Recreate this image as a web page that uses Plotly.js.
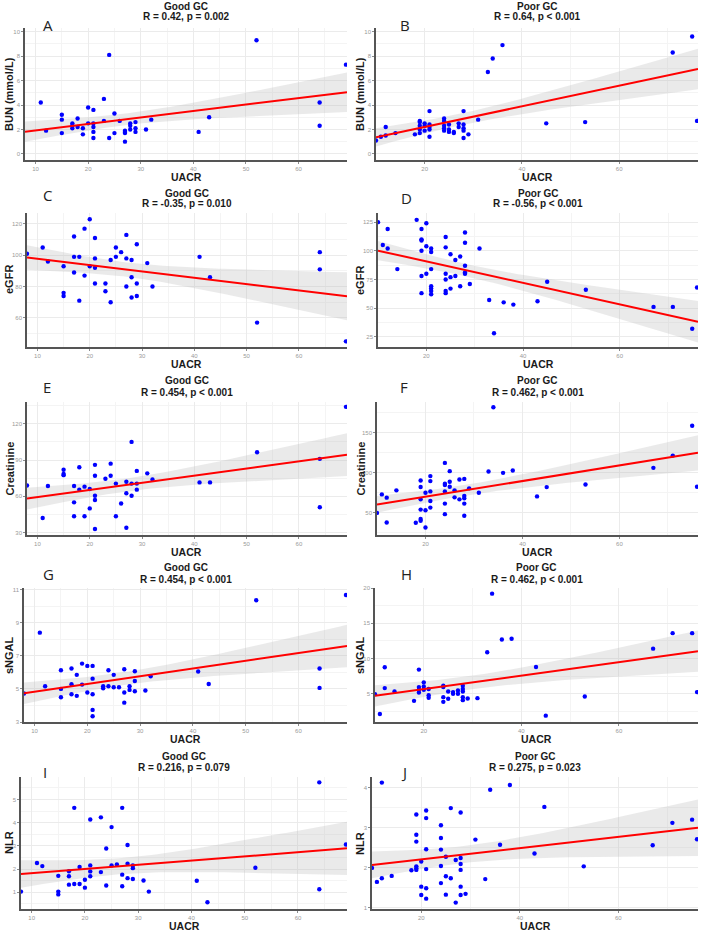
<!DOCTYPE html>
<html>
<head>
<meta charset="utf-8">
<script src="https://cdn.plot.ly/plotly-3.0.1.min.js"></script>
<style>html,body{margin:0;padding:0;background:#fff;}#chart{width:702px;height:932px;}</style>
</head>
<body>
<div id="chart"></div>
<script>
// ---------------- DATA ----------------
const groupGood = "Good GC";
const groupPoor = "Poor GC";
const xLabel = "UACR";

// A: BUN, Good GC
const bunGoodUacr = [11,12,15,15,15,17,17,17,18,18,19,19,20,20,21,21,21,21,21,23,23,24,24,25,25,26,27,27,27,27,28,28,28,29,29,29,31,32,41,43,52,64,64,69];
const bunGood = [4.2,1.9,3.2,2.8,1.7,2.5,2.3,2.1,2.9,2.2,2.1,1.6,3.8,2.5,3.6,2.5,2.2,1.8,1.3,4.5,2.7,8.1,1.3,3.3,1.7,2.7,1.9,1.7,1.0,1.8,2.5,2.3,2.0,2.6,2.1,1.8,2.0,2.8,1.8,3.0,9.3,4.2,2.3,7.3];
// B: BUN, Poor GC
const bunPoorUacr = [10,11,12,12,14,18,19,19,19,19,19,20,20,20,21,21,21,21,21,24,24,24,24,24,25,25,25,26,26,27,27,28,28,28,28,28,29,31,33,34,36,45,53,71,75,76];
const bunPoor = [1.1,1.4,2.2,1.5,1.7,1.6,2.7,2.6,2.3,2.0,1.7,2.5,2.3,1.9,3.5,2.4,2.2,2.0,1.4,2.9,2.7,2.3,2.1,1.9,2.4,2.0,1.8,1.8,1.7,2.5,2.2,3.5,2.4,2.1,1.9,1.3,1.6,2.8,6.7,7.8,8.9,2.5,2.6,8.3,9.6,2.7];
// C: eGFR, Good GC
const egfrGoodUacr = [8,11,12,15,15,15,17,17,17,18,18,19,19,20,20,21,21,21,21,23,23,24,24,25,25,26,27,27,27,28,28,28,29,29,29,31,32,41,43,52,64,64,69];
const egfrGood = [101,105,96,93,76,74,112,99,89,99,71,117,87,123,93,111,98,92,82,82,77,97,70,105,99,102,113,98,80,97,86,73,107,82,74,95,80,99,86,57,102,91,45];
// D: eGFR, Poor GC
const egfrPoorUacr = [10,11,12,12,14,18,19,19,19,19,19,19,20,20,20,21,21,21,21,21,21,21,24,24,24,24,24,24,25,25,25,26,26,27,27,28,28,28,28,28,29,31,33,34,36,38,43,45,53,67,71,75,76];
const egfrPoor = [125,105,119,102,84,127,119,110,109,100,78,63,124,104,80,102,99,84,69,67,65,62,112,103,80,75,65,63,97,77,67,92,78,95,69,116,107,87,81,80,71,102,57,28,55,53,56,73,66,51,51,32,68];
// E: Creatinine, Good GC
const creatGoodUacr = [8,11,12,15,15,15,17,17,17,18,18,19,19,20,20,21,21,21,21,21,23,24,24,25,25,26,27,27,27,28,28,28,29,29,29,31,32,41,43,52,64,64,69];
const creatGood = [69,42,68.5,82,78.5,77.5,68.5,55,43.5,84,65.5,68,43.5,66,50,86,77,60.5,57,33,74.5,87,77,70.5,43.5,54,72,62.5,34,105,70.5,60.5,81,70.5,65.5,79,74,71.5,71.5,96.5,91,51,134];
// F: Creatinine, Poor GC
const creatPoorUacr = [10,11,12,12,14,18,19,19,19,19,19,19,20,20,20,21,21,21,21,21,24,24,24,24,24,24,25,25,25,26,26,27,27,28,28,28,28,28,29,31,33,34,36,38,43,45,53,67,71,75,76];
const creatPoor = [49.6,72.7,68.6,37.6,77.7,37.2,90,82,66.5,53.7,42,39.7,74.8,52.9,31.4,95.5,89.3,76.4,64.5,56.2,112,86,84.3,76.4,61.2,48,101.7,88.4,82.2,77.7,69,91.3,66.5,92,70.7,67.8,61.2,46,80.2,74.8,101.2,181.4,99.6,102.5,70.2,81.8,85.1,105.8,121.1,158.3,82.2];
// G: sNGAL, Good GC
const ngalGoodUacr = [8,11,12,15,15,15,17,17,17,18,18,19,19,20,20,21,21,21,21,21,23,23,24,24,25,25,26,27,27,27,28,28,29,29,29,31,32,41,43,52,64,64,69];
const ngalGood = [4.72,8.4,5.16,6.13,5.0,4.5,6.23,5.28,4.68,5.85,4.58,6.53,5.26,6.39,4.78,6.39,5.62,4.68,3.73,3.35,5.16,5.04,6.13,5.16,5.85,5.1,5.1,6.19,4.78,4.17,5.16,4.94,6.07,5.48,4.86,4.9,5.77,6.05,5.3,10.36,6.23,5.06,10.68];
// H: sNGAL, Poor GC
const ngalPoorUacr = [10,11,12,12,14,18,19,19,19,19,20,20,20,21,21,21,24,24,24,24,25,25,26,26,27,27,28,28,28,28,28,29,31,33,34,36,38,43,45,53,67,71,75,76];
const ngalPoor = [4.95,2.14,8.76,5.81,5.33,4.0,8.43,5.95,5.57,5.19,6.62,6.05,5.57,5.67,4.81,4.43,6.14,5.95,4.52,3.86,5.33,4.29,5.24,5.0,5.48,5.0,6.14,5.67,5.33,4.52,4.1,4.33,4.38,10.9,19.2,12.7,12.8,8.8,1.9,4.62,11.4,13.6,13.6,5.24];
// I: NLR, Good GC
const nlrGoodUacr = [8,11,12,15,15,15,17,17,17,18,18,19,19,20,20,21,21,21,21,23,23,24,24,25,25,26,27,27,27,28,28,28,29,29,29,31,32,41,43,52,64,64,69];
const nlrGood = [1.03,2.26,2.13,1.71,1.03,0.91,1.91,1.69,1.33,4.64,1.36,2.09,1.36,1.54,1.2,4.14,2.16,1.9,1.69,4.23,1.87,2.89,1.29,3.81,2.16,2.2,4.64,1.76,1.26,3.04,2.23,1.61,2.16,2.04,1.57,1.51,1.03,1.5,0.57,2.06,5.74,1.13,3.06];
// J: NLR, Poor GC
const nlrPoorUacr = [10,11,12,12,14,18,19,19,19,19,19,19,20,20,20,21,21,21,21,21,21,24,24,24,24,24,25,25,25,26,26,27,27,28,28,28,28,28,28,29,31,33,34,36,38,43,45,53,67,71,75,76];
const nlrPoor = [1.99,1.64,4.13,1.73,1.79,1.93,3.33,2.82,2.65,2.03,1.98,1.94,2.15,1.52,1.31,3.43,3.24,2.46,1.96,1.48,1.22,3.06,2.74,2.45,2.04,1.61,2.27,1.78,1.32,3.49,1.73,2.19,1.12,3.38,2.24,2.09,1.94,1.52,1.31,1.34,2.70,1.71,3.95,2.57,4.07,2.35,3.52,2.03,2.56,3.12,3.2,2.71];

const panelLetters = ["A","B","C","D","E","F","G","H","I","J"];
const yLabels = ["BUN (mmol/L)","eGFR","Creatinine","sNGAL","NLR"];
const statLabels = ["R = 0.42, p = 0.002","R = 0.64, p < 0.001","R = -0.35, p = 0.010","R = -0.56, p < 0.001",
  "R = 0.454, p < 0.001","R = 0.462, p < 0.001","R = 0.454, p < 0.001","R = 0.462, p < 0.001",
  "R = 0.216, p = 0.079","R = 0.275, p = 0.023"];

// ---------------- LAYOUT / STYLE ----------------
const W = 702, H = 932;
const fx = p => p / W, fy = p => 1 - p / H;

const series = [
  [bunGoodUacr, bunGood],[bunPoorUacr, bunPoor],
  [egfrGoodUacr, egfrGood],[egfrPoorUacr, egfrPoor],
  [creatGoodUacr, creatGood],[creatPoorUacr, creatPoor],
  [ngalGoodUacr, ngalGood],[ngalPoorUacr, ngalPoor],
  [nlrGoodUacr, nlrGood],[nlrPoorUacr, nlrPoor]
];
// pixel boxes of plot areas [left, right, top, bottom]
const boxes = [
  [25,347,28,160],[376,698,28,160],
  [27,347,213,347],[378,698,213,347],
  [27,347,402,535],[377,698,402,535],
  [24,347,588,722],[375,698,588,722],
  [21,347,777,909],[372,698,777,909]
];
const yAxisSpec = [
  {r:[-0.5,10.3], t0:0, d:2, m:1},{r:[-0.5,10.3], t0:0, d:2, m:1},
  {r:[41.4,127], t0:0, d:20, m:10},{r:[16,133], t0:0, d:25, m:12.5},
  {r:[28,138], t0:0, d:30, m:15},{r:[22,188], t0:0, d:50, m:25},
  {r:[3.0,11.1], t0:1, d:2, m:1},{r:[1,20], t0:0, d:5, m:2.5},
  {r:[0.28,5.97], t0:0, d:1, m:0.5},{r:[0.96,4.27], t0:0, d:1, m:0.5}
];
const xGood = {r:[8,69.2], t0:0, d:10, m:5};
const xPoor = {r:[10,76.2], t0:0, d:20, m:10};
const titleRows = [[6,17],[193,204],[380,392],[567,579],[756,767]];
const xTitleY = [177,364,552,739,926];
const letterPos = [[48,25],[405,25],[47,195],[406,198],[47,387],[404,387],[48,574],[406,574],[45,772],[404,772]];

function tQuant(df){ return 1.959964 + 2.37227/df + 2.82217/(df*df); }
function lmFit(xs, ys, x0, x1){
  const n = xs.length;
  let mx=0,my=0; for(let i=0;i<n;i++){mx+=xs[i];my+=ys[i];} mx/=n; my/=n;
  let sxx=0,sxy=0; for(let i=0;i<n;i++){sxx+=(xs[i]-mx)**2; sxy+=(xs[i]-mx)*(ys[i]-my);}
  const b=sxy/sxx, a=my-b*mx;
  let sse=0; for(let i=0;i<n;i++){sse+=(ys[i]-a-b*xs[i])**2;}
  const s=Math.sqrt(sse/(n-2)), t=tQuant(n-2);
  const gx=[],gy=[],lo=[],hi=[];
  const N=80;
  for(let k=0;k<=N;k++){
    const x=x0+(x1-x0)*k/N, y=a+b*x;
    const se=s*Math.sqrt(1/n+(x-mx)**2/sxx);
    gx.push(x); gy.push(y); lo.push(y-t*se); hi.push(y+t*se);
  }
  return {gx,gy,lo,hi};
}

const font = "Liberation Sans, Arial, Helvetica, sans-serif";
const traces = [];
const layout = {
  width: W, height: H, margin:{l:0,r:0,t:0,b:0},
  paper_bgcolor:"#ffffff", plot_bgcolor:"#ffffff", showlegend:false,
  font:{family:font}, annotations:[]
};

series.forEach((s, i) => {
  const k = i+1, sfx = k===1 ? "" : String(k);
  const xs = s[0], ys = s[1];
  const xs_ = (i%2===0) ? xGood : xPoor;
  const ys_ = yAxisSpec[i];
  const fit = lmFit(xs, ys, xs_.r[0], xs_.r[1]);
  const xa = "x"+sfx, ya = "y"+sfx;
  traces.push({type:"scatter", mode:"lines", x: fit.gx.concat(fit.gx.slice().reverse()),
    y: fit.hi.concat(fit.lo.slice().reverse()), fill:"toself", fillcolor:"rgba(190,190,190,0.32)",
    line:{width:0}, hoverinfo:"skip", xaxis:xa, yaxis:ya});
  traces.push({type:"scatter", mode:"markers", x: xs, y: ys,
    marker:{color:"#0000ff", size:4.4}, xaxis:xa, yaxis:ya});
  traces.push({type:"scatter", mode:"lines", x: fit.gx, y: fit.gy,
    line:{color:"#ff0000", width:2}, xaxis:xa, yaxis:ya});

  const b = boxes[i];
  const common = {showgrid:true, gridcolor:"#ebebeb", gridwidth:1, zeroline:false,
    showline:true, linecolor:"#555555", linewidth:1.8, ticks:"outside", ticklen:2,
    tickcolor:"#8c8c8c", tickwidth:1, tickfont:{size:6, color:"#9a9a9a", family:font},
    tickmode:"linear", fixedrange:true};
  layout["xaxis"+sfx] = Object.assign({}, common, {domain:[fx(b[0]), fx(b[1])], anchor:ya,
    range:xs_.r, tick0:xs_.t0, dtick:xs_.d,
    minor:{showgrid:true, gridcolor:"#f4f4f4", gridwidth:1, tick0:xs_.t0, dtick:xs_.m}});
  layout["yaxis"+sfx] = Object.assign({}, common, {domain:[fy(b[3]), fy(b[2])], anchor:xa,
    range:ys_.r, tick0:ys_.t0, dtick:ys_.d,
    minor:{showgrid:true, gridcolor:"#f4f4f4", gridwidth:1, tick0:ys_.t0, dtick:ys_.m}});

  const row = Math.floor(i/2), cx = (b[0]+b[1])/2, cy = (b[2]+b[3])/2;
  const ann = layout.annotations;
  ann.push({xref:"paper", yref:"paper", x:fx(cx), y:fy(titleRows[row][0]), xanchor:"center", yanchor:"middle",
    text:"<b>"+(i%2===0?groupGood:groupPoor)+"</b>", showarrow:false, font:{size:10, color:"#1a1a1a", family:font}});
  ann.push({xref:"paper", yref:"paper", x:fx(cx), y:fy(titleRows[row][1]), xanchor:"center", yanchor:"middle",
    text:"<b>"+statLabels[i]+"</b>", showarrow:false, font:{size:10, color:"#1a1a1a", family:font}});
  ann.push({xref:"paper", yref:"paper", x:fx(cx), y:fy(xTitleY[row]), xanchor:"center", yanchor:"middle",
    text:"<b>"+xLabel+"</b>", showarrow:false, font:{size:10.5, color:"#1a1a1a", family:font}});
  ann.push({xref:"paper", yref:"paper", x:fx(i%2===0 ? 9 : 360), y:fy(cy), xanchor:"center", yanchor:"middle",
    text:"<b>"+yLabels[row]+"</b>", textangle:-90, showarrow:false, font:{size:11, color:"#1a1a1a", family:font}});
  ann.push({xref:"paper", yref:"paper", x:fx(letterPos[i][0]), y:fy(letterPos[i][1]), xanchor:"center", yanchor:"middle",
    text:panelLetters[i], showarrow:false, font:{size:15, color:"#222222", family:"Open Sans, Liberation Sans, sans-serif"}});
});

Plotly.newPlot("chart", traces, layout, {staticPlot:true, displayModeBar:false});
</script>
</body>
</html>
